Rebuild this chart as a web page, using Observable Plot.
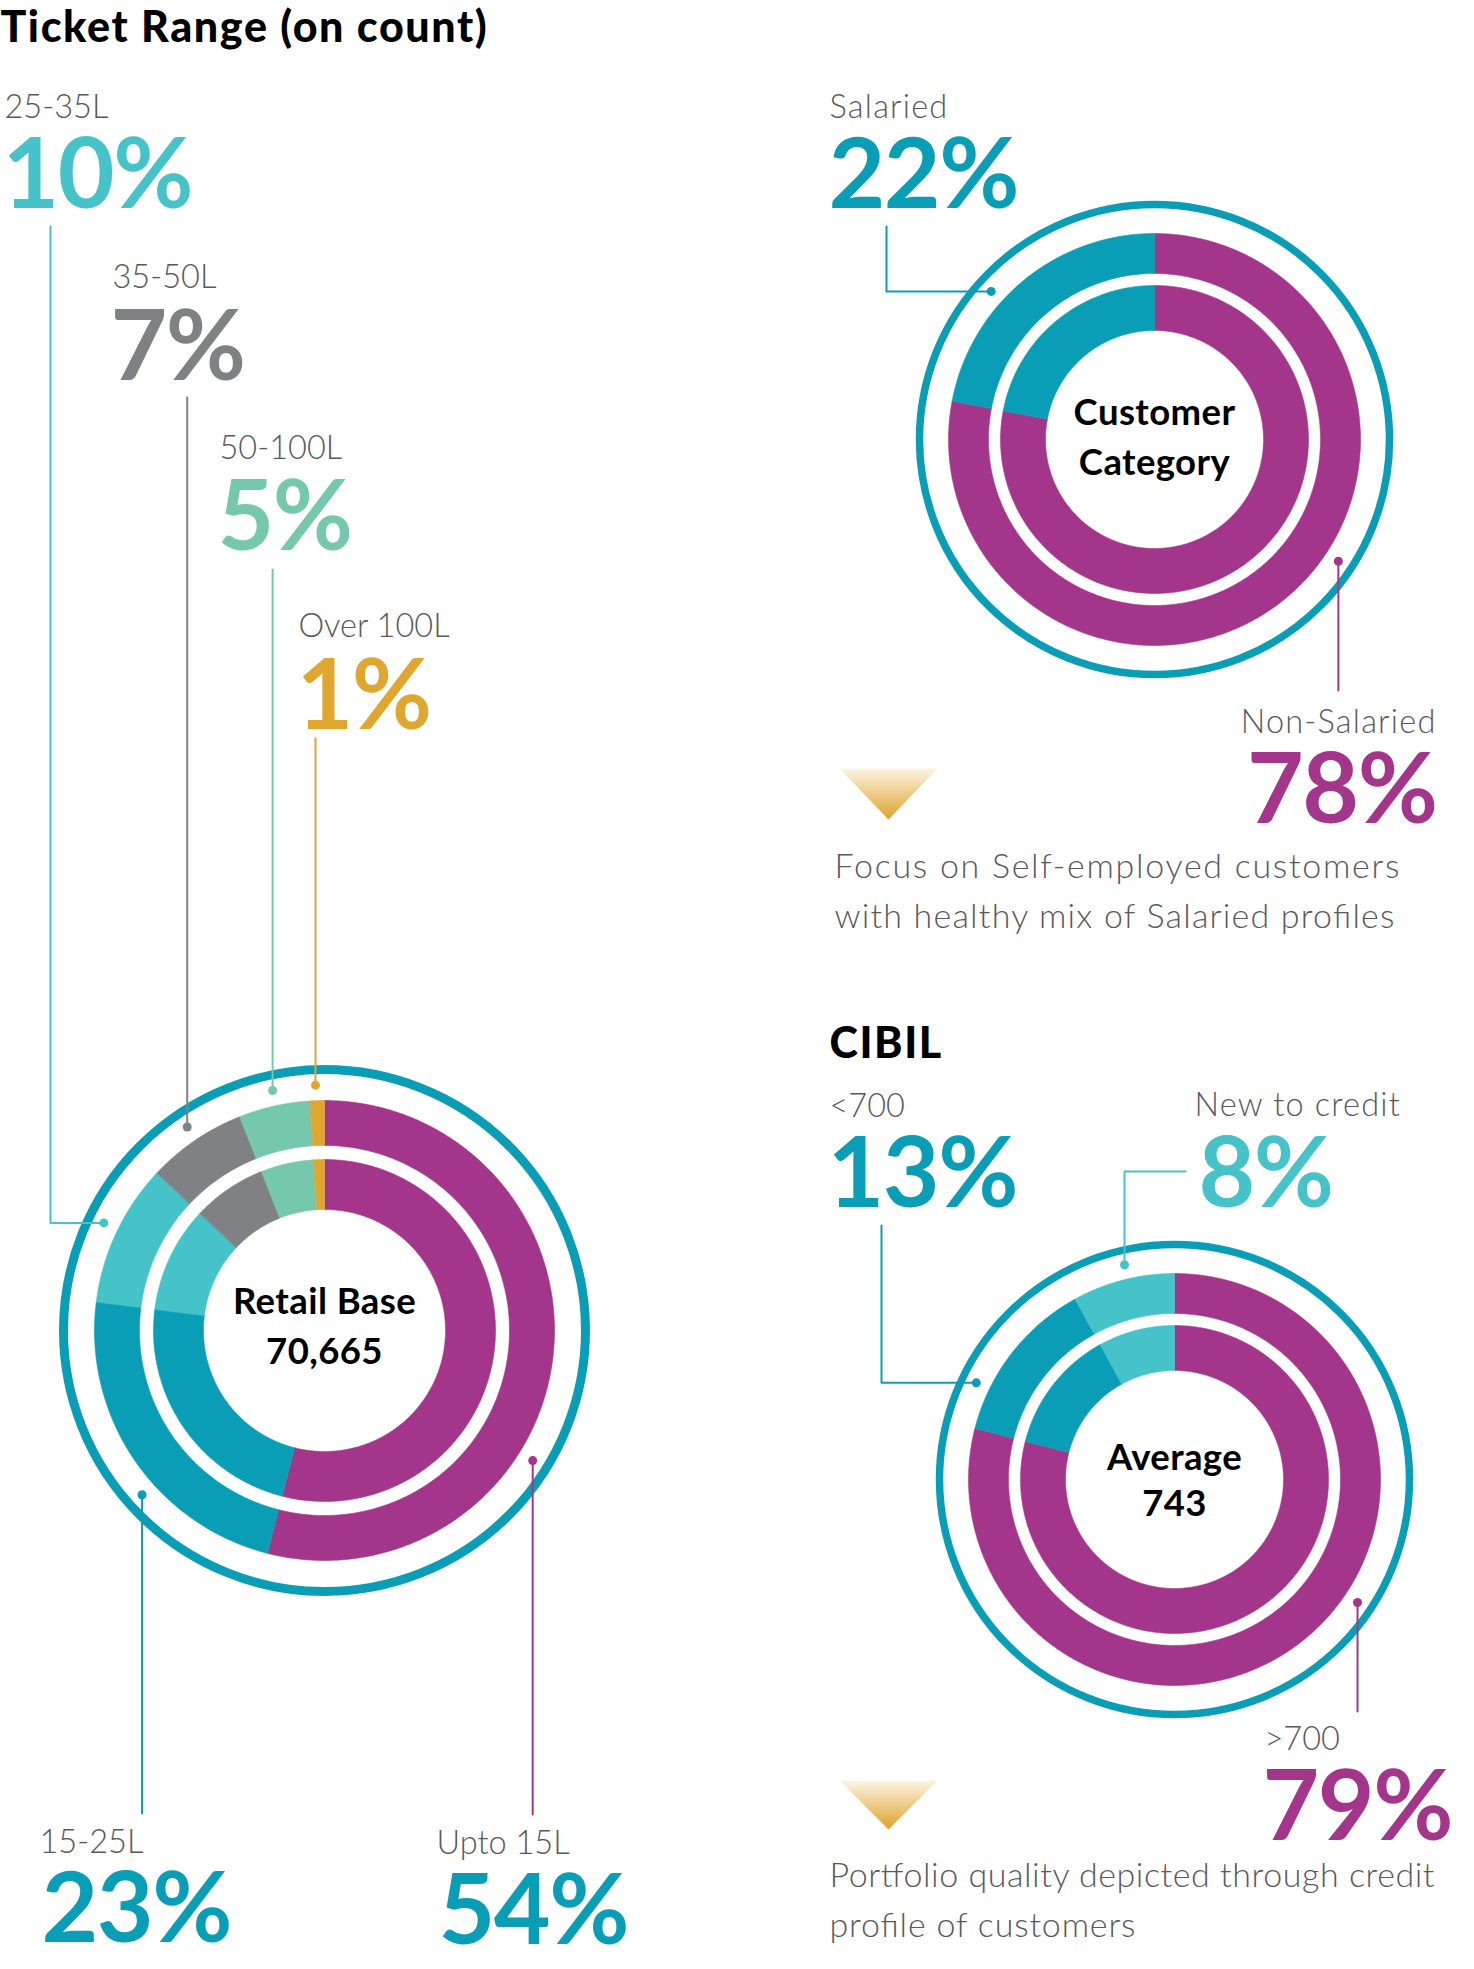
<!DOCTYPE html>
<html>
<head>
<meta charset="utf-8">
<script src="https://cdn.jsdelivr.net/npm/d3@7"></script>
<script src="https://cdn.jsdelivr.net/npm/@observablehq/plot@0.6"></script>
<style>
  html, body { margin: 0; padding: 0; background: #fff; }
  #chart svg { display: block; }
</style>
</head>
<body>
<div id="chart"></div>
<script>
// ---------------- data ----------------
const ticketCategories = ["Upto 15L", "15-25L", "25-35L", "35-50L", "50-100L", "Over 100L"];
const ticketShares = [54, 23, 10, 7, 5, 1];
const customerCategories = ["Non-Salaried", "Salaried"];
const customerShares = [78, 22];
const cibilCategories = [">700", "<700", "New to credit"];
const cibilShares = [79, 13, 8];
const centerTexts = [["Retail Base", "70,665"], ["Customer", "Category"], ["Average", "743"]];
const headings = ["Ticket Range (on count)", "CIBIL"];
const notes = [
  ["Focus on Self-employed customers", "with healthy mix of Salaried profiles"],
  ["Portfolio quality depicted through credit", "profile of customers"]
];

// ---------------- styles ----------------
const PURPLE = "#a3368a", TEAL = "#0a9eb6", LTEAL = "#45c3c9", GRAY = "#808184", MINT = "#75c8ab", GOLD = "#dfa630";
const LABEL = "#58595b";
const ticketColors = [PURPLE, TEAL, LTEAL, GRAY, MINT, GOLD];
const customerColors = [PURPLE, TEAL];
const cibilColors = [PURPLE, TEAL, LTEAL];

// ---------------- layout ----------------
const W = 1474, H = 1969;
const donuts = [
  {cats: ticketCategories, shares: ticketShares, colors: ticketColors, center: centerTexts[0],
   cx: 324, cy: 1330, R: 261, ringW: 9, bands: [[185, 230], [121, 171]], cOff: [-17, 33.5]},
  {cats: customerCategories, shares: customerShares, colors: customerColors, center: centerTexts[1],
   cx: 1154, cy: 439, R: 235, ringW: 7.5, bands: [[166, 206], [109, 154]], cOff: [-15, 35.5]},
  {cats: cibilCategories, shares: cibilShares, colors: cibilColors, center: centerTexts[2],
   cx: 1174, cy: 1479, R: 235, ringW: 7.5, bands: [[166, 206], [109, 154]], cOff: [-10, 36]}
];
const labelLayout = {
  "25-35L":        {x: 4,    y: 117,  ny: 207,  nx: 2,    lead: {angle: 296,   type: "vh", x: 50,  y: 226}},
  "35-50L":        {x: 112,  y: 287.5,ny: 379,  nx: 110,  lead: {angle: 326,   type: "v",  y: 397}},
  "50-100L":       {x: 219,  y: 458,  ny: 549,  nx: 217,  lead: {angle: 347.8, type: "v",  y: 569}},
  "Over 100L":     {x: 298,  y: 636.5,ny: 728,  nx: 296,  lead: {angle: 357.9, type: "v",  y: 738}},
  "15-25L":        {x: 39,   y: 1852, ny: 1941, nx: 41,   lead: {angle: 228,   type: "v",  y: 1813}},
  "Upto 15L":      {x: 436,  y: 1853, ny: 1943, nx: 438,  numColor: TEAL, lead: {angle: 122, type: "v", y: 1814}},
  "Salaried":      {x: 829,  y: 117,  ny: 207,  nx: 828,  lead: {angle: 312.2, type: "vh", x: 886, y: 226}},
  "Non-Salaried":  {x: 1436, y: 732,  ny: 822,  nx: 1436, anchor: "end", lead: {angle: 123.5, type: "v", y: 690}},
  "<700":          {x: 829,  y: 1116, ny: 1206.5, nx: 827, lead: {angle: 296, type: "vh", x: 881, y: 1225}},
  "New to credit": {x: 1194, y: 1115, ny: 1206.5, nx: 1198, lead: {angle: 346.9, type: "hv", x: 1185, y: 1171}},
  ">700":          {x: 1264, y: 1749, ny: 1839, nx: 1262, lead: {angle: 123.9, type: "v", y: 1711}}
};
const headingPos = [[0, 41.5], [829, 1057]];
const notePos = [[834, 877.6, 927.8], [829, 1886, 1936]];
const noteWidths = [[565, 560], [605, 306]];
const triangles = [[839, 937, 768, 819], [839, 937, 1780, 1829]];

// ---------------- derived geometry ----------------
const rad = a => a * Math.PI / 180;
const polar = (cx, cy, r, a) => [cx + r * Math.sin(rad(a)), cy - r * Math.cos(rad(a))];

const bandRows = [];
const leaderRows = [];
const dotRows = [];
const labelRows = [];
const numberRows = [];
const centerRows = [];

donuts.forEach((d, di) => {
  const total = d3.sum(d.shares);
  let acc = 0;
  const gap = (d.bands[0][1] + d.R) / 2;
  d.shares.forEach((s, si) => {
    const a0 = acc / total * 360, a1 = (acc + s) / total * 360;
    acc += s;
    d.bands.forEach(([r0, r1], bi) => {
      const id = `${di}-${si}-${bi}`;
      const n = Math.max(2, Math.ceil((a1 - a0) / 0.5));
      for (let k = 0; k <= n; k++) {
        const [x, y] = polar(d.cx, d.cy, r1, a0 + (a1 - a0) * k / n);
        bandRows.push({id, x, y, color: d.colors[si]});
      }
      for (let k = n; k >= 0; k--) {
        const [x, y] = polar(d.cx, d.cy, r0, a0 + (a1 - a0) * k / n);
        bandRows.push({id, x, y, color: d.colors[si]});
      }
    });
    const cat = d.cats[si];
    const L = labelLayout[cat];
    const lead = L.lead;
    const [px, py] = polar(d.cx, d.cy, gap, lead.angle);
    let pts;
    if (lead.type === "v") pts = [[px, lead.y], [px, py]];
    else if (lead.type === "vh") pts = [[lead.x, lead.y], [lead.x, py], [px, py]];
    else pts = [[lead.x, lead.y], [px, lead.y], [px, py]];
    pts.forEach(([x, y]) => leaderRows.push({id: `${di}-${si}`, x, y, color: d.colors[si]}));
    dotRows.push({x: px, y: py, color: d.colors[si]});
    const anchor = L.anchor || "start";
    labelRows.push({x: L.x, y: L.y, text: cat, anchor});
    numberRows.push({x: L.nx, y: L.ny, text: `${s}%`, color: L.numColor || d.colors[si], anchor});
  });
  centerRows.push({x: d.cx, y: d.cy + d.cOff[0], text: d.center[0]});
  centerRows.push({x: d.cx, y: d.cy + d.cOff[1], text: d.center[1]});
});

const headingRows = headings.map((t, i) => ({x: headingPos[i][0], y: headingPos[i][1], text: t}));
const noteRows = notes.flatMap((lines, i) => lines.map((t, j) => ({x: notePos[i][0], y: notePos[i][1 + j], text: t})));
const triRows = triangles.flatMap(([x0, x1, y0, y1], i) => [
  {id: i, x: x0, y: y0}, {id: i, x: x1, y: y0}, {id: i, x: (x0 + x1) / 2, y: y1}
]);

const gradientDefs = () => {
  const defs = d3.create("svg:defs");
  const g = defs.append("linearGradient").attr("id", "triGrad")
    .attr("x1", 0).attr("y1", 0).attr("x2", 0).attr("y2", 1);
  g.append("stop").attr("offset", "0%").attr("stop-color", "#fcf4e4");
  g.append("stop").attr("offset", "100%").attr("stop-color", "#dea22a");
  return defs.node();
};

const FONT = "Lato, 'Open Sans', sans-serif";
const textMarks = (rows, opts) => ["start", "end"].map(anchor => {
  const sub = rows.filter(r => (r.anchor || "start") === anchor);
  return Plot.text(sub, {x: "x", y: "y", text: "text", textAnchor: anchor, lineAnchor: "bottom", fontFamily: FONT, ...opts});
});

const chart = Plot.plot({
  width: W,
  height: H,
  margin: 0,
  x: {domain: [0, W], range: [0, W], axis: null},
  y: {domain: [0, H], range: [0, H], axis: null},
  color: {type: "identity"},
  style: {background: "#fff", fontFamily: FONT},
  marks: [
    gradientDefs,
    Plot.line(bandRows, {x: "x", y: "y", z: "id", fill: "color", stroke: "color", strokeWidth: 0.6, curve: "linear-closed"}),
    ...donuts.map(d => Plot.dot([d], {x: "cx", y: "cy", r: d.R, fill: "none", stroke: TEAL, strokeWidth: d.ringW})),
    Plot.line(leaderRows, {x: "x", y: "y", z: "id", stroke: "color", strokeWidth: 2}),
    Plot.dot(dotRows, {x: "x", y: "y", r: 4.5, fill: "color", stroke: null}),
    Plot.line(triRows, {x: "x", y: "y", z: "id", fill: "url(#triGrad)", stroke: null, curve: "linear-closed"}),
    ...textMarks(labelRows, {fontSize: 32.5, fontWeight: 300, fill: LABEL}),
    ...textMarks(numberRows, {fontSize: 98, fontWeight: 700, fill: "color"}),
    Plot.text(centerRows, {x: "x", y: "y", text: "text", textAnchor: "middle", lineAnchor: "bottom", fontFamily: FONT, fontSize: 36.5, fontWeight: 700, fill: "#000"}),
    ...textMarks(headingRows, {fontSize: 43, fontWeight: 900, fill: "#000"}),
    ...textMarks(noteRows, {fontSize: 34, fontWeight: 300, fill: LABEL})
  ]
});

// letter spacing / widths to approximate the wider typeface of the original
const spacing = new Map();
headings.forEach(t => spacing.set(t, "1.6px"));
["Non-Salaried", "Salaried", "New to credit"].forEach(t => spacing.set(t, "1.2px"));
numberRows.forEach(r => spacing.set(r.text, "-1.5px"));
centerTexts.flat().forEach(t => spacing.set(t, "0.4px"));
const widths = new Map();
notes.forEach((lines, i) => lines.forEach((t, j) => widths.set(t, noteWidths[i][j])));
d3.select(chart).selectAll("text").each(function() {
  const s = spacing.get(this.textContent);
  if (s) this.setAttribute("letter-spacing", s);
  const w = widths.get(this.textContent);
  if (w) { this.setAttribute("textLength", w); this.setAttribute("lengthAdjust", "spacing"); }
});
document.getElementById("chart").appendChild(chart);
</script>
</body>
</html>
